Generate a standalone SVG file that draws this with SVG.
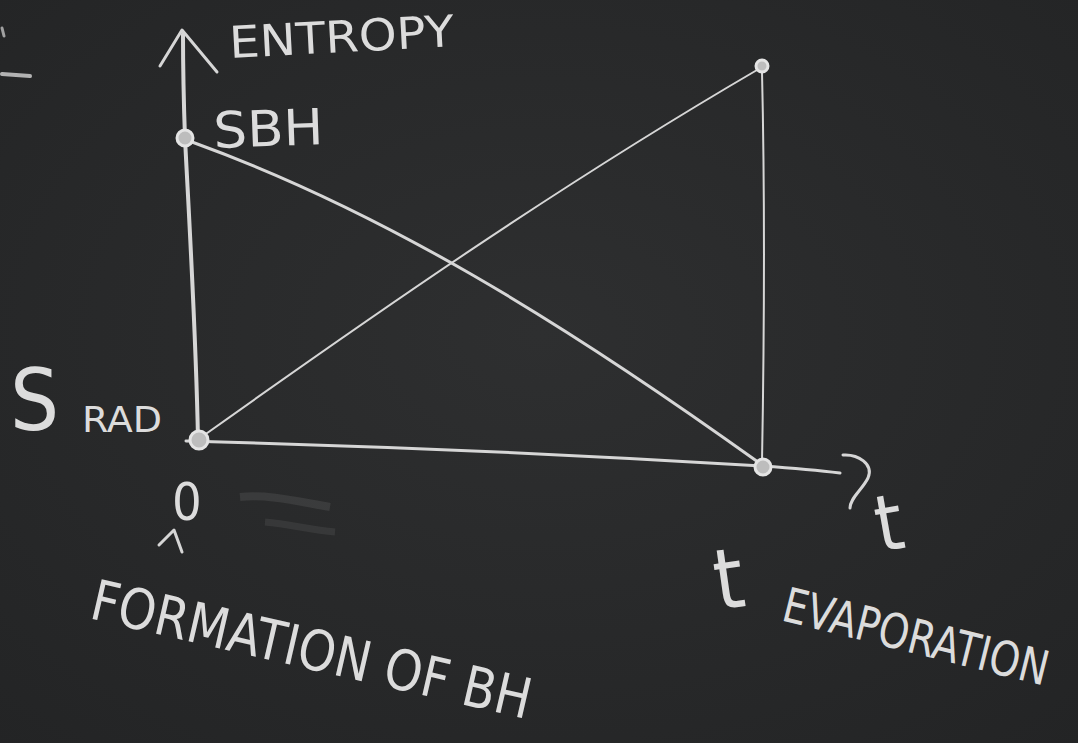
<svg xmlns="http://www.w3.org/2000/svg" width="1078" height="743" viewBox="0 0 1078 743">
<defs>
<radialGradient id="bg" cx="0.5" cy="0.45" r="0.75">
<stop offset="0" stop-color="#2e2f30"/>
<stop offset="1" stop-color="#232425"/>
</radialGradient>
<style>
.chalk{fill:none;stroke:#d6d6d6;stroke-linecap:round;stroke-linejoin:round}
.thin{stroke-width:2}
.mid{stroke-width:3}
.thick{stroke-width:4}
.txt{fill:#dcdcdc;font-family:"DejaVu Sans Condensed","DejaVu Sans",sans-serif;font-weight:200}
.dot{fill:#bdbdbd;stroke:#e4e4e4;stroke-width:3}
</style>
</defs>
<rect width="1078" height="743" fill="url(#bg)"/>

<g id="stray">
<path class="chalk thick" d="M2,74 L30,76" opacity="0.8"/>
<path class="chalk mid" d="M2,28 L4,36" opacity="0.7"/>
<path d="M240,497 C270,494 300,502 330,507" stroke="#8a8a8a" stroke-width="8" fill="none" opacity="0.18"/>
<path d="M265,522 C290,524 310,530 335,532" stroke="#8a8a8a" stroke-width="7" fill="none" opacity="0.15"/>
</g>

<g id="connectors">
<path class="chalk thick" d="M198,440 C196,330 188,200 185,138 C184,110 183,80 183,34"/>
<path class="chalk mid" d="M160,66 L182,30 L217,72"/>
<path class="chalk mid" d="M186,441 C380,446 600,456 762,466 C790,468 815,470 840,473"/>
<path class="chalk mid" d="M843,455 C858,454 874,464 868,478 C862,490 850,498 850,508"/>
<path class="chalk mid" d="M192,142 C380,210 560,320 758,462"/>
<path class="chalk thin" d="M203,436 C380,310 560,185 757,70"/>
<path class="chalk thin" d="M762,72 C765,200 764,350 762,462"/>
</g>

<g id="node-sbh">
<circle class="dot" cx="185" cy="138" r="8"/>
<text class="txt" x="214" y="148" font-size="50" textLength="110" lengthAdjust="spacingAndGlyphs" transform="rotate(-2 214 148)">SBH</text>
</g>

<g id="node-origin">
<circle class="dot" cx="199" cy="440" r="9"/>
</g>

<g id="node-top">
<circle class="dot" cx="762" cy="66" r="6" fill="#3a3a3a"/>
</g>

<g id="node-tevap">
<circle class="dot" cx="763" cy="467" r="8" fill="#8a8a8a"/>
</g>

<g id="label-entropy">
<text class="txt" x="230" y="58" font-size="44" textLength="225" lengthAdjust="spacingAndGlyphs" transform="rotate(-3 230 58)">ENTROPY</text>
</g>

<g id="label-srad">
<text class="txt" x="10" y="430" font-size="86">S</text>
<text class="txt" x="82" y="432" font-size="36" textLength="80" lengthAdjust="spacingAndGlyphs">RAD</text>
</g>

<g id="label-zero">
<text class="txt" x="172" y="520" font-size="52">0</text>
<path class="chalk mid" d="M159,545 L174,530 L182,552"/>
</g>

<g id="label-formation">
<text class="txt" x="0" y="0" font-size="56" textLength="450" lengthAdjust="spacingAndGlyphs" transform="translate(88 618) rotate(13)">FORMATION OF BH</text>
</g>

<g id="label-t">
<text class="txt" x="880" y="552" font-size="78" transform="rotate(-10 880 552)">t</text>
</g>

<g id="label-tevap">
<text class="txt" x="718" y="610" font-size="84" transform="rotate(-8 718 610)">t</text>
<text class="txt" x="0" y="0" font-size="48" textLength="272" lengthAdjust="spacingAndGlyphs" transform="translate(780 620) rotate(14)">EVAPORATION</text>
</g>
</svg>
